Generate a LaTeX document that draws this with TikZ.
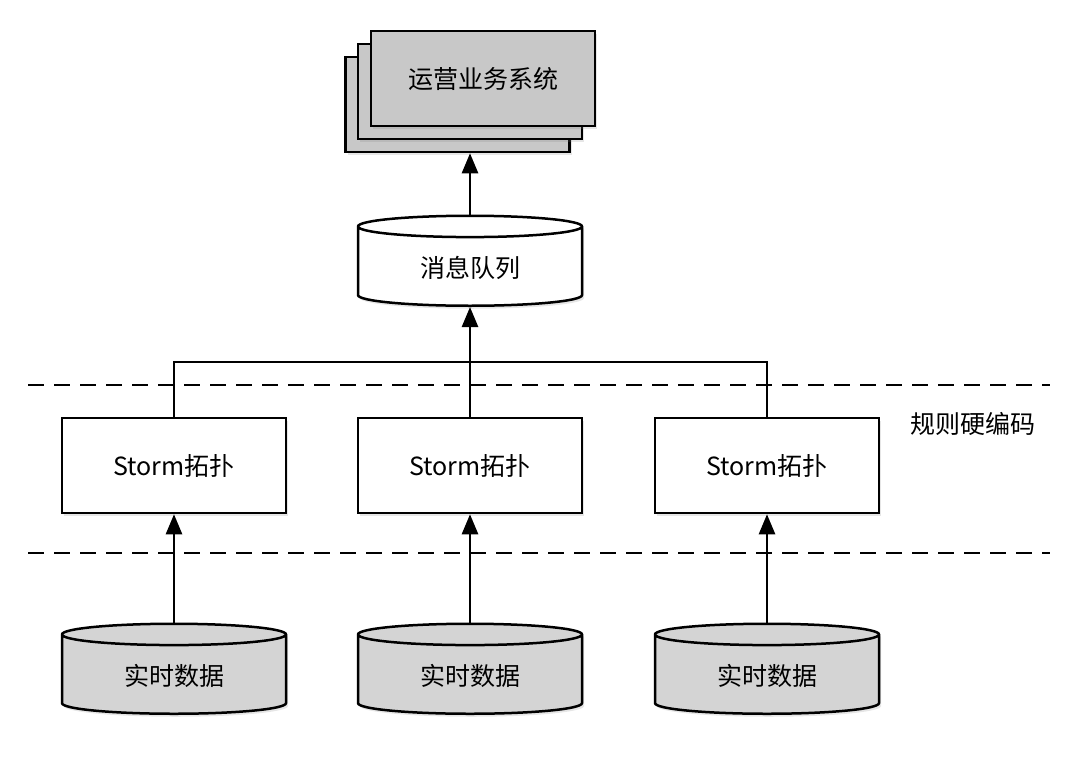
\documentclass[tikz,border=0pt]{standalone}
\usepackage{fontspec}
\setmainfont{Noto Sans CJK SC}
\usetikzlibrary{shapes.geometric,arrows.meta,shadows}
\definecolor{sysgray}{RGB}{200,200,200}
\definecolor{datagray}{RGB}{212,212,212}
\tikzset{
  box/.style={draw, line width=2.5pt, minimum width=224pt, minimum height=95pt,
    font=\fontsize{25}{30}\selectfont, drop shadow={opacity=0.2, shadow xshift=2pt, shadow yshift=-3pt}},
  db/.style={cylinder, shape border rotate=90, aspect=0.2, draw, line width=2.5pt,
    minimum width=224pt, minimum height=90pt, font=\fontsize{25}{30}\selectfont,
    drop shadow={opacity=0.2, shadow xshift=2pt, shadow yshift=-3pt}},
  link/.style={line width=2.5pt, -{Triangle[length=20pt,width=16pt]}},
  sep/.style={line width=2.5pt, dash pattern=on 16pt off 10pt}
}
\begin{document}
\begin{tikzpicture}[x=1pt, y=-1pt]
    \useasboundingbox (0,0) rectangle (1073,779);

    % stacked systems
    \node[box, fill=sysgray] (sysc) at (457.5,104.5) {};
    \node[box, fill=sysgray] (sysb) at (470,91.5) {};
    \node[box, fill=sysgray] (sys) at (483,78.5) {运营业务系统};

    \node[db, fill=white] (mq) at (470,268) {消息队列};

    % layer separators
    \draw[sep] (28,385) -- (1050,385);
    \draw[sep] (28,553) -- (1050,553);
    \node[font=\fontsize{25}{30}\selectfont] (rule) at (973,424) {规则硬编码};

    \foreach \i/\x in {1/174, 2/470, 3/767} {
        \node[box, fill=white] (st\i) at (\x,465.5) {Storm拓扑};
        \node[db, fill=datagray] (rt\i) at (\x,676) {实时数据};
        \draw[link] (rt\i.top) -- (st\i.south);
    }

    \coordinate (merge) at (470,362);
    \draw[line width=2.5pt] (st1.north) |- (merge) -| (st3.north);
    \draw[link] (st2.north) -- (mq.bottom);
    \draw[link] (mq.top) -- (mq.top |- sysc.south);
\end{tikzpicture}
\end{document}
